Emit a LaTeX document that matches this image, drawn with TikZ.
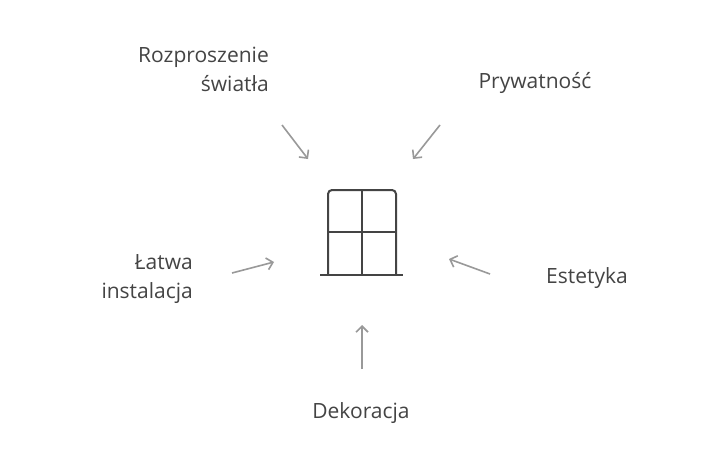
\documentclass[tikz,border=0pt]{standalone}
\usepackage{fontspec}
\setmainfont{Open Sans}
\usetikzlibrary{arrows.meta,positioning}
\definecolor{txtgray}{HTML}{444444}
\definecolor{arrgray}{HTML}{999999}
\tikzset{
  label/.style={text=txtgray, font=\fontsize{21}{29}\selectfont, inner sep=0pt},
  pointer/.style={draw=arrgray, line width=1.6pt, -{Straight Barb[length=6pt,width=12pt]}},
  window/.style={draw=txtgray, line width=2pt}
}
\begin{document}
\begin{tikzpicture}[x=1pt,y=-1pt]
  \useasboundingbox[fill=white] (0,0) rectangle (703,468);
  % window icon
  \draw[window, rounded corners=4pt] (328,275) -- (328,190) -- (396,190) -- (396,275);
  \draw[window] (362,190) -- (362,275);
  \draw[window] (328,232) -- (396,232);
  \draw[window] (320,275) -- (403,275);
  % labels
  \node[label, align=right, anchor=east] (light) at (269,69) {Rozproszenie\\światła};
  \node[label] (privacy) at (535,83) {Prywatność};
  \node[label, align=right, anchor=east] (install) at (193,279) {Łatwa\\instalacja};
  \node[label] (look) at (587,278) {Estetyka};
  \node[label] (deco) at (361,413) {Dekoracja};
  % arrow ends
  \coordinate (a1s) at (282,125); \coordinate (a1e) at (308,159);
  \coordinate (a2s) at (440,125); \coordinate (a2e) at (413,159);
  \coordinate (a3s) at (232,273); \coordinate (a3e) at (274,262);
  \coordinate (a4s) at (490,274); \coordinate (a4e) at (449,259);
  \coordinate (a5s) at (362,369); \coordinate (a5e) at (362,325);
  \foreach \k in {1,...,5} {
    \draw[pointer] (a\k s) -- (a\k e);
  }
\end{tikzpicture}
\end{document}
